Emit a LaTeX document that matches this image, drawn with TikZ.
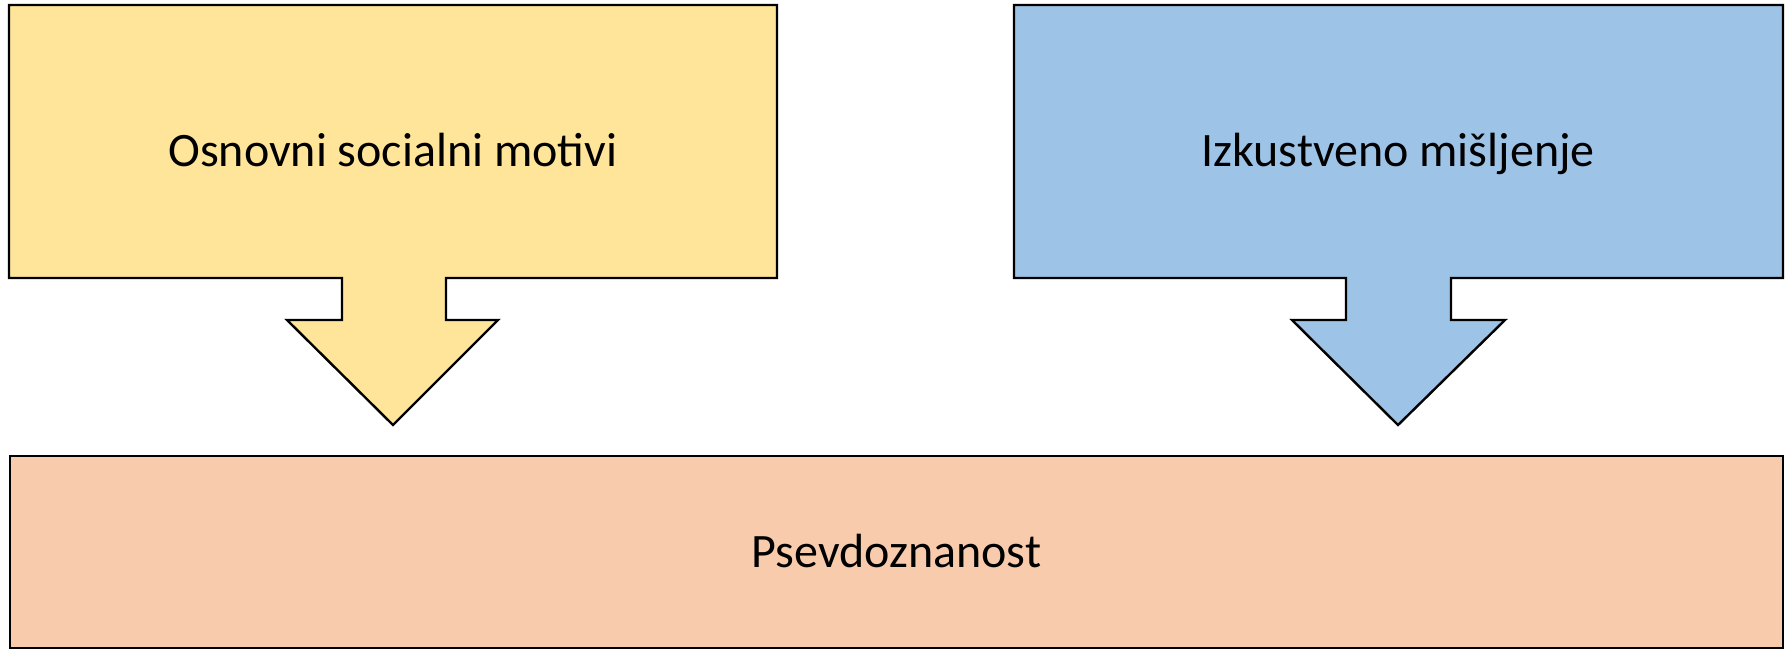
\documentclass[tikz,border=0pt]{standalone}
\usepackage{fontspec}
\setmainfont{Carlito}
\begin{document}
\begin{tikzpicture}[x=1pt,y=1pt,yscale=-1,xscale=1,
	callout/.style={draw=black,line width=2.4pt,line join=miter},
	label/.style={anchor=base,inner sep=0.75pt,font=\fontsize{48}{58}\selectfont}]
	\useasboundingbox (0,0) rectangle (1787,649);
	
	%Shape: Down Arrow Callout [id:motivi] 
	\draw [callout,fill={rgb, 255:red, 255; green, 229; blue, 153 }] (9,5) -- (777,5) -- (777,278) -- (446,278) -- (446,320) -- (498,320) -- (393,425) -- (287,320) -- (342,320) -- (342,278) -- (9,278) -- cycle ;
	%Shape: Down Arrow Callout [id:misljenje] 
	\draw [callout,fill={rgb, 255:red, 157; green, 195; blue, 230 }] (1014,5) -- (1783,5) -- (1783,278) -- (1451,278) -- (1451,320) -- (1505,320) -- (1398,425) -- (1292,320) -- (1346,320) -- (1346,278) -- (1014,278) -- cycle ;
	%Shape: Rectangle [id:psevdo] 
	\draw [callout,line width=1.8pt,fill={rgb, 255:red, 248; green, 203; blue, 173 }] (10,456) rectangle (1783,648) ;
	
	% Text Node
	\node (motivi) [label] at (393,166) {Osnovni socialni motivi};
	% Text Node
	\node (misljenje) [label] at (1398,166) {Izkustveno mišljenje};
	% Text Node
	\node (psevdo) [label] at (896.5,567) {Psevdoznanost};
	
\end{tikzpicture}
\end{document}
